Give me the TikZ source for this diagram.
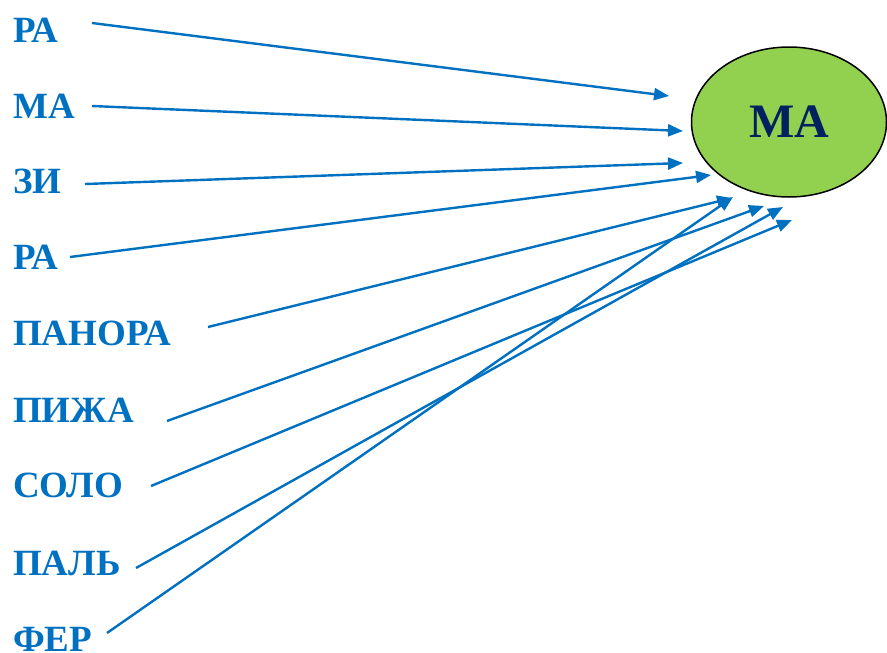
\documentclass[tikz,border=0pt]{standalone}
\usepackage{fontspec}
\setmainfont{Liberation Serif}
\usetikzlibrary{shapes.geometric,arrows.meta}
\definecolor{lblblue}{HTML}{0070C0}
\definecolor{navy}{HTML}{002060}
\definecolor{ellgreen}{HTML}{92D050}
\begin{document}
\begin{tikzpicture}[x=1pt,y=-1pt,
  lbl/.style={anchor=base west,inner sep=0pt,text=lblblue,font=\fontsize{37}{37}\selectfont\bfseries},
  conn/.style={draw=lblblue,line width=2.4pt,-{Triangle[length=15pt,width=12pt]}}]
\useasboundingbox (0,0) rectangle (887,653);
\node[ellipse,draw=black,line width=1.5pt,fill=ellgreen,minimum width=195pt,minimum height=150pt,inner sep=0pt,
  font=\fontsize{48}{48}\selectfont\bfseries,text=navy] (ma) at (789,122) {МА};
\node[lbl] (l1) at (13,42) {РА};
\node[lbl] (l2) at (13,118) {МА};
\node[lbl] (l3) at (13,193) {ЗИ};
\node[lbl] (l4) at (13,269) {РА};
\node[lbl] (l5) at (13,345) {ПАНОРА};
\node[lbl] (l6) at (13,422) {ПИЖА};
\node[lbl] (l7) at (13,497) {СОЛО};
\node[lbl] (l8) at (13,575) {ПАЛЬ};
\node[lbl] (l9) at (13,651) {ФЕР};
\coordinate (s1) at (92,23);   \coordinate (t1) at (669,96);
\coordinate (s2) at (92,106);  \coordinate (t2) at (683,131);
\coordinate (s3) at (85,184);  \coordinate (t3) at (683,163);
\coordinate (s4) at (70,257);  \coordinate (t4) at (711,175);
\coordinate (s5) at (208,327); \coordinate (t5) at (732,198);
\coordinate (s6) at (167,421); \coordinate (t6) at (764,206);
\coordinate (s7) at (151,486); \coordinate (t7) at (792,220);
\coordinate (s8) at (136,568); \coordinate (t8) at (783,207);
\coordinate (s9) at (107,633); \coordinate (t9) at (733,197);
\foreach \i in {1,...,9} {\draw[conn] (s\i) -- (t\i);}
\end{tikzpicture}
\end{document}
